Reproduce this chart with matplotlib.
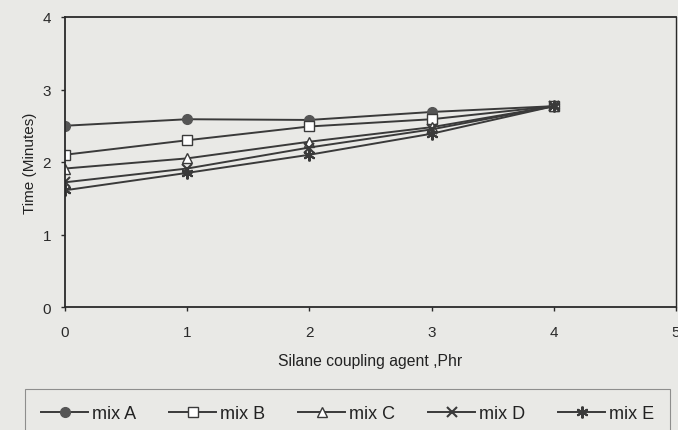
import matplotlib
matplotlib.use("Agg")
import matplotlib.pyplot as plt

# silane coupling agent (phr)
silane = [0, 1, 2, 3, 4]

mix_a = [2.50, 2.59, 2.58, 2.69, 2.77]
mix_b = [2.10, 2.30, 2.49, 2.59, 2.77]
mix_c = [1.91, 2.05, 2.28, 2.48, 2.77]
mix_d = [1.72, 1.91, 2.20, 2.45, 2.77]
mix_e = [1.61, 1.85, 2.10, 2.39, 2.77]

labels = ["mix A", "mix B", "mix C", "mix D", "mix E"]

plt.rcParams['font.family'] = ['Liberation Sans', 'DejaVu Sans']

bg = '#e9e9e6'
ink = '#3a3a3a'

fig = plt.figure(figsize=(6.78, 4.31), dpi=100, facecolor=bg)
ax = fig.add_axes([65/678, 1 - 308/431, (676 - 65)/678, (308 - 18)/431])
ax.set_facecolor(bg)

styles = [
    dict(marker='o', markersize=7, markerfacecolor='#555555', markeredgecolor='#555555'),
    dict(marker='s', markersize=7, markerfacecolor='white', markeredgecolor=ink, markeredgewidth=1),
    dict(marker='^', markersize=7, markerfacecolor='white', markeredgecolor=ink, markeredgewidth=1),
    dict(marker='x', markersize=7.5, markeredgecolor=ink, markeredgewidth=1.5),
    dict(marker=(6, 2, 0), markersize=8.5, markeredgecolor=ink, markeredgewidth=1.5),
]
series = [mix_a, mix_b, mix_c, mix_d, mix_e]
for ys, lab, st in zip(series, labels, styles):
    ax.plot(silane, ys, color=ink, linewidth=1.4, label=lab, **st)

ax.set_xlim(0, 5)
ax.set_ylim(0, 4)
ax.set_xticks([0, 1, 2, 3, 4, 5])
ax.set_yticks([0, 1, 2, 3, 4])
for s in ax.spines.values():
    s.set_color('#2a2a2a')
    s.set_linewidth(1.3)
ax.spines['right'].set_linewidth(1.0)
ax.tick_params(direction='out', length=3, width=1, colors='#2a2a2a', labelsize=11, pad=10)
ax.tick_params(axis='y', pad=7)

ax.set_xlabel("Silane coupling agent ,Phr", fontsize=11.3, color='#222222', labelpad=10)
ax.set_ylabel("Time (Minutes)", fontsize=11, color='#222222', labelpad=4)

handles, labs = ax.get_legend_handles_labels()
leg = fig.legend(handles, labs, loc='upper left', ncol=5, mode='expand',
                 bbox_to_anchor=(25/678, 1 - 394/431, (670 - 25)/678, 0.01),
                 frameon=True, fancybox=False, fontsize=13, handlelength=2.6,
                 handletextpad=0.2, borderaxespad=0, borderpad=0.9)
leg.get_frame().set_edgecolor('#777777')
leg.get_frame().set_linewidth(0.8)
leg.get_frame().set_facecolor(bg)
for t in leg.get_texts():
    t.set_color('#222222')

fig.savefig("out.png", dpi=100, facecolor=bg)
